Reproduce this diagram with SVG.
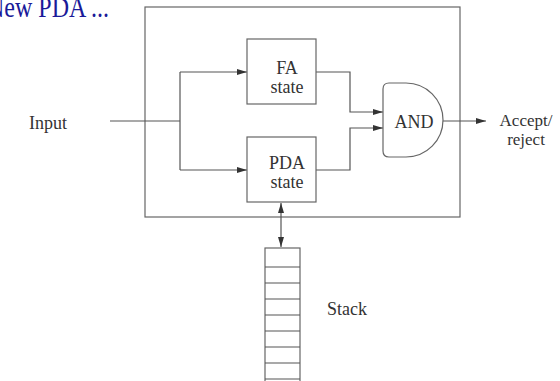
<svg xmlns="http://www.w3.org/2000/svg" width="560" height="381" viewBox="0 0 560 381">
<defs>
<style>
.ln{fill:none;stroke:#555;stroke-width:1.2}
.bx{fill:#fff;stroke:#666;stroke-width:1.2}
.t{font-family:"Liberation Serif","Times New Roman",serif;font-size:18px;fill:#333;text-anchor:middle}
.s{font-size:17px}
.title{font-family:"Liberation Serif","Times New Roman",serif;font-size:24px;fill:#1a1a99}
</style>
<marker id="ah" viewBox="0 0 10 6" refX="10" refY="3" markerWidth="10" markerHeight="6" markerUnits="userSpaceOnUse" orient="auto-start-reverse">
<path d="M0,0 L10,3 L0,6 Z" fill="#333"/>
</marker>
</defs>
<rect width="560" height="381" fill="#fff"/>
<text class="title" transform="translate(-13,17) scale(1,1.25)">New PDA ...</text>
<g id="outer"><rect x="145" y="7" width="315" height="210" class="bx"/></g>
<g id="connectors">
<path class="ln" d="M110,121 H180"/>
<path class="ln" d="M180,72 V170"/>
<path class="ln" d="M180,72 H247" marker-end="url(#ah)"/>
<path class="ln" d="M180,170 H247" marker-end="url(#ah)"/>
<path class="ln" d="M316,72 H350 V112 H383" marker-end="url(#ah)"/>
<path class="ln" d="M316,170 H350 V128 H383" marker-end="url(#ah)"/>
<path class="ln" d="M443,121 H486" marker-end="url(#ah)"/>
<path class="ln" d="M281,203 V247" marker-start="url(#ah)" marker-end="url(#ah)"/>
</g>
<g id="input"><text class="t" x="48" y="129">Input</text></g>
<g id="fa"><rect x="247" y="39" width="69" height="65" class="bx"/><text class="t" x="287" y="74">FA</text><text class="t" x="287" y="93">state</text></g>
<g id="pda"><rect x="247" y="137" width="69" height="65" class="bx"/><text class="t" x="287" y="169">PDA</text><text class="t" x="287" y="188">state</text></g>
<g id="and"><path class="bx" d="M389,83 H406 A37,37 0 0 1 406,157 H389 Q383,157 383,151 V89 Q383,83 389,83 Z"/><text class="t" x="414" y="128">AND</text></g>
<g id="output"><text class="t s" x="526" y="126">Accept/</text><text class="t s" x="526" y="145">reject</text></g>
<g id="stack">
<rect x="265" y="248" width="35" height="140" class="bx"/>
<path class="ln" d="M265,267 H300 M265,283 H300 M265,299 H300 M265,315 H300 M265,331 H300 M265,347 H300 M265,363 H300 M265,379 H300"/>
<text class="t" x="347" y="315">Stack</text>
</g>
</svg>
